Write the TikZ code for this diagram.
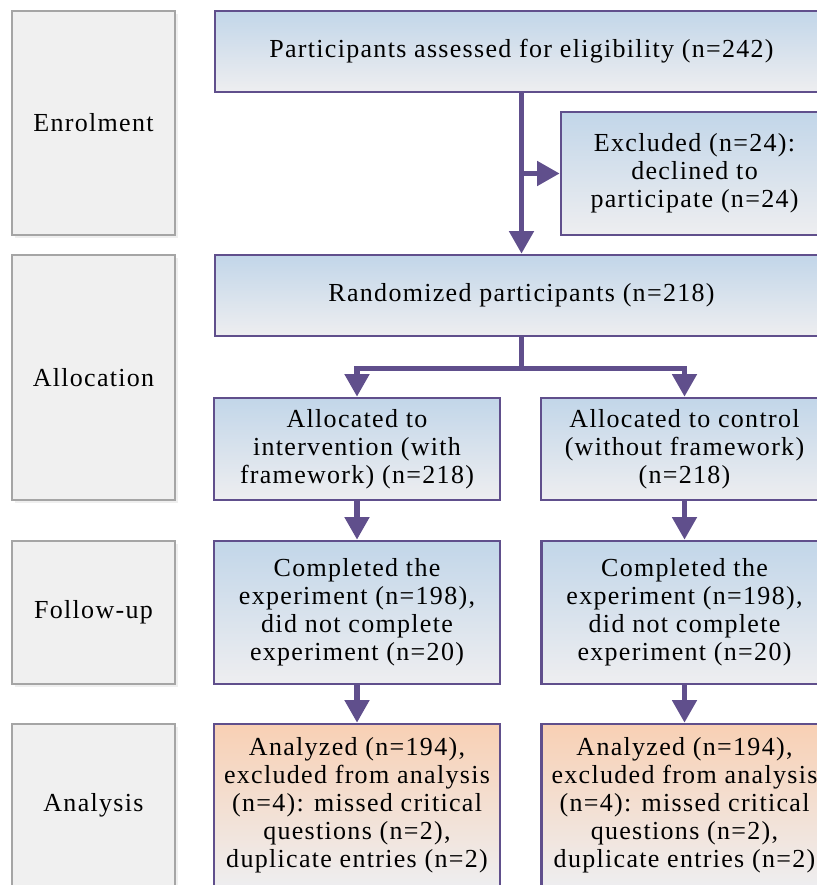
\documentclass[tikz,border=0pt]{standalone}
\usepackage{fontspec}
\setmainfont{Liberation Serif}[LetterSpace=5]
\usepackage{tikz}
\usetikzlibrary{arrows.meta,shadows}
\definecolor{flowline}{RGB}{96,79,140}
\definecolor{boxtop}{RGB}{194,214,233}
\definecolor{boxbot}{RGB}{238,238,240}
\definecolor{restop}{RGB}{248,208,180}
\definecolor{stagefill}{RGB}{240,240,240}
\definecolor{stagegray}{RGB}{165,165,165}
\begin{document}
\begin{tikzpicture}
	[
		x=0.75pt, y=-0.75pt,
		every node/.style={font=\fontsize{19.5}{21}\selectfont, inner sep=0pt, align=center},
		stage/.style={draw=stagegray, line width=0.8pt, fill=stagefill, minimum width=122.25pt,
			drop shadow={shadow xshift=2pt, shadow yshift=-2pt, fill=black!12}},
		flowbox/.style={draw=flowline, line width=2pt, top color=boxtop, bottom color=boxbot},
		resultbox/.style={flowbox, top color=restop},
		flow/.style={draw=flowline, line width=3.8pt, -{Triangle[length=17pt,width=18pt]}}
	]
	\useasboundingbox (0,0) rectangle (817,885);
	\clip (0,0) rectangle (817,885);

	% stages
	\node(enrol) [stage, minimum height=168pt] at (93.5,123) {Enrolment};
	\node(alloc) [stage, minimum height=183.75pt] at (93.5,377.5) {Allocation};
	\node(follow) [stage, minimum height=107.25pt] at (93.5,612.5) {Follow-up};
	\node(analysis) [stage, minimum height=122.25pt] at (93.5,805.5) {Analysis};

	% flow
	\node(assess) [flowbox, minimum width=459.75pt, minimum height=60.75pt] at (521.5,51.5)
		{Participants assessed for eligibility (n=242)};
	\node(excl) [flowbox, minimum width=200.25pt, minimum height=92.25pt] at (694.5,173.5)
		{Excluded (n=24):\\ declined to\\ participate (n=24)};
	\node(rand) [flowbox, minimum width=459.75pt, minimum height=60.75pt] at (521.5,295.5)
		{Randomized participants (n=218)};
	\node(armA) [flowbox, minimum width=214.5pt, minimum height=76.5pt] at (357,449)
		{Allocated to\\ intervention (with\\ framework) (n=218)};
	\node(armB) [flowbox, minimum width=215.25pt, minimum height=76.5pt] at (684.5,449)
		{Allocated to control\\ (without framework)\\ (n=218)};
	\foreach \s/\x in {A/357,B/684.5} {
		\node(fu\s) [flowbox, minimum width=214.5pt, minimum height=107.25pt] at (\x,612.5)
			{Completed the\\ experiment (n=198),\\ did not complete\\ experiment (n=20)};
		\node(an\s) [resultbox, minimum width=214.5pt, minimum height=122.25pt] at (\x,805.5)
			{Analyzed (n=194),\\ excluded from analysis\\ (n=4): missed critical\\ questions (n=2),\\ duplicate entries (n=2)};
	}

	\draw[flow] (assess.south) -- (rand.north);
	\draw[flow] (assess.south |- excl.west) -- (excl.west);
	\draw[flow] (rand.south) -- ++(0,31) -| (armA.north);
	\draw[flow] (rand.south) -- ++(0,31) -| (armB.north);
	\foreach \s in {A,B} {\draw[flow] (arm\s) -- (fu\s); \draw[flow] (fu\s) -- (an\s);};
\end{tikzpicture}
\end{document}
